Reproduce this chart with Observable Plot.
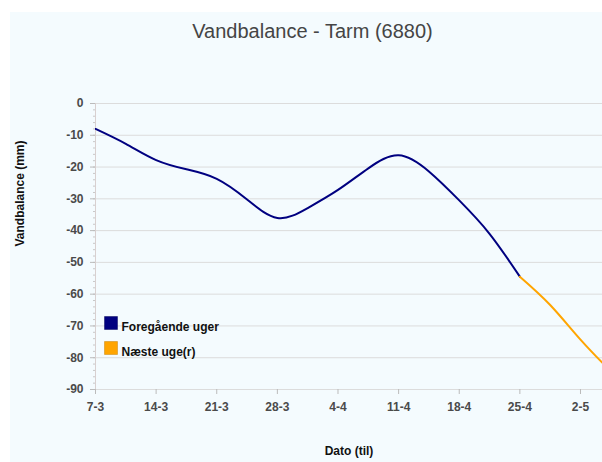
<!DOCTYPE html>
<html>
<head>
<meta charset="utf-8">
<script src="https://cdn.jsdelivr.net/npm/d3@7"></script>
<script src="https://cdn.jsdelivr.net/npm/@observablehq/plot@0.6"></script>
<style>
  html, body { margin: 0; padding: 0; background: #ffffff; }
  #wrap { position: relative; width: 602px; height: 462px; overflow: hidden; }
  #bg { position: absolute; left: 10px; top: 12px; right: 0; bottom: 0; background: #f4fbfe; }
  #chart { position: absolute; left: 0; top: 0; }
  #chart svg { background: transparent !important; }
</style>
</head>
<body>
<div id="wrap"><div id="bg"></div><div id="chart"></div></div>
<script>
// ---- data ----
const titleText = "Vandbalance - Tarm (6880)";
const yLabel = "Vandbalance (mm)";
const xLabel = "Dato (til)";
const seriesNames = ["Foregående uger", "Næste uge(r)"];
const seriesColors = ["#000080", "#FFA500"];

const histDates = ["2021-03-07T00:00Z","2021-03-10T12:00Z","2021-03-14T00:00Z","2021-03-17T12:00Z","2021-03-21T00:00Z","2021-03-24T12:00Z","2021-03-28T00:00Z","2021-03-31T12:00Z","2021-04-04T00:00Z","2021-04-07T12:00Z","2021-04-11T00:00Z","2021-04-14T12:00Z","2021-04-18T00:00Z","2021-04-21T12:00Z","2021-04-25T00:00Z"];
const histValues = [-8, -12.7, -17.8, -20.7, -23.7, -30.2, -36.0, -32.9, -27.2, -20.4, -16.3, -21.4, -30.5, -41.0, -54.5];

const fcDates = ["2021-04-25T00:00Z","2021-04-28T12:00Z","2021-05-02T00:00Z","2021-05-05T12:00Z"];
const fcValues = [-54.5, -63.4, -74.3, -84.3];

const tickDates = ["2021-03-07","2021-03-14","2021-03-21","2021-03-28","2021-04-04","2021-04-11","2021-04-18","2021-04-25","2021-05-02"];
const yTicks = [0, -10, -20, -30, -40, -50, -60, -70, -80, -90];
const yMinorTicks = d3.range(-90, 0.1, 2);
const xDomain = ["2021-03-07T00:00Z", "2021-05-04T13:00Z"];

// ---- build ----
const parse = s => new Date(s.length === 10 ? s + "T00:00Z" : s);
const hist = histDates.map((d, i) => ({date: parse(d), value: histValues[i]}));
const fc = fcDates.map((d, i) => ({date: parse(d), value: fcValues[i]}));
const ticks = tickDates.map(parse);
const fmt = d => `${d.getUTCDate()}-${d.getUTCMonth() + 1}`;

const chart = Plot.plot({
  width: 602,
  height: 462,
  marginLeft: 95,
  marginRight: 0,
  marginTop: 103,
  marginBottom: 73,
  style: {background: "transparent", fontFamily: "'Liberation Sans', Arial, sans-serif"},
  x: {type: "utc", domain: xDomain.map(parse), label: null},
  y: {domain: [-90, 0], label: null},
  marks: [
    Plot.gridY(yTicks, {stroke: "#dcdcdc", strokeOpacity: 1, strokeWidth: 1}),
    Plot.ruleX([parse(xDomain[0])], {stroke: "#d8d0d0", strokeWidth: 1}),
    Plot.axisY(yMinorTicks, {tickSize: 2, tickFormat: () => "", stroke: "#c8c8c8", label: null}),
    Plot.axisY(yTicks, {tickSize: 5, tickPadding: 7, stroke: "#bbbbbb", fill: "#4a4a4a", fontWeight: "bold", fontSize: 12, tickFormat: d => String(d), label: null}),
    Plot.axisX(ticks, {tickSize: 5, tickPadding: 8, stroke: "#bbbbbb", fill: "#4a4a4a", fontWeight: "bold", fontSize: 12, tickFormat: fmt, label: null}),
    Plot.line(hist, {x: "date", y: "value", stroke: seriesColors[0], strokeWidth: 2, curve: "natural", clip: true}),
    Plot.line(fc, {x: "date", y: "value", stroke: seriesColors[1], strokeWidth: 2, curve: "natural", clip: true}),
    // titles
    Plot.text([titleText], {frameAnchor: "top-left", dx: 217, dy: -80, textAnchor: "middle", fill: "#454545", fontSize: 20}),
    Plot.text([yLabel], {frameAnchor: "left", dx: -75, rotate: -90, fill: "#111", fontWeight: "bold", fontSize: 12}),
    Plot.text([xLabel], {frameAnchor: "bottom", dy: 65, fill: "#111", fontWeight: "bold", fontSize: 12}),
    // legend
    Plot.dot([0], {frameAnchor: "top-left", dx: 15.5, dy: 219.5, symbol: "square", r: 7.3, fill: seriesColors[0], stroke: "#00005a", strokeWidth: 0.5}),
    Plot.dot([0], {frameAnchor: "top-left", dx: 15.5, dy: 244.5, symbol: "square", r: 7.3, fill: seriesColors[1], stroke: "#c88000", strokeWidth: 0.5}),
    Plot.text([seriesNames[0]], {frameAnchor: "top-left", dx: 26, dy: 219, textAnchor: "start", fill: "#111", fontWeight: "bold", fontSize: 12}),
    Plot.text([seriesNames[1]], {frameAnchor: "top-left", dx: 26, dy: 244, textAnchor: "start", fill: "#111", fontWeight: "bold", fontSize: 12})
  ]
});
document.getElementById("chart").appendChild(chart);
</script>
</body>
</html>
